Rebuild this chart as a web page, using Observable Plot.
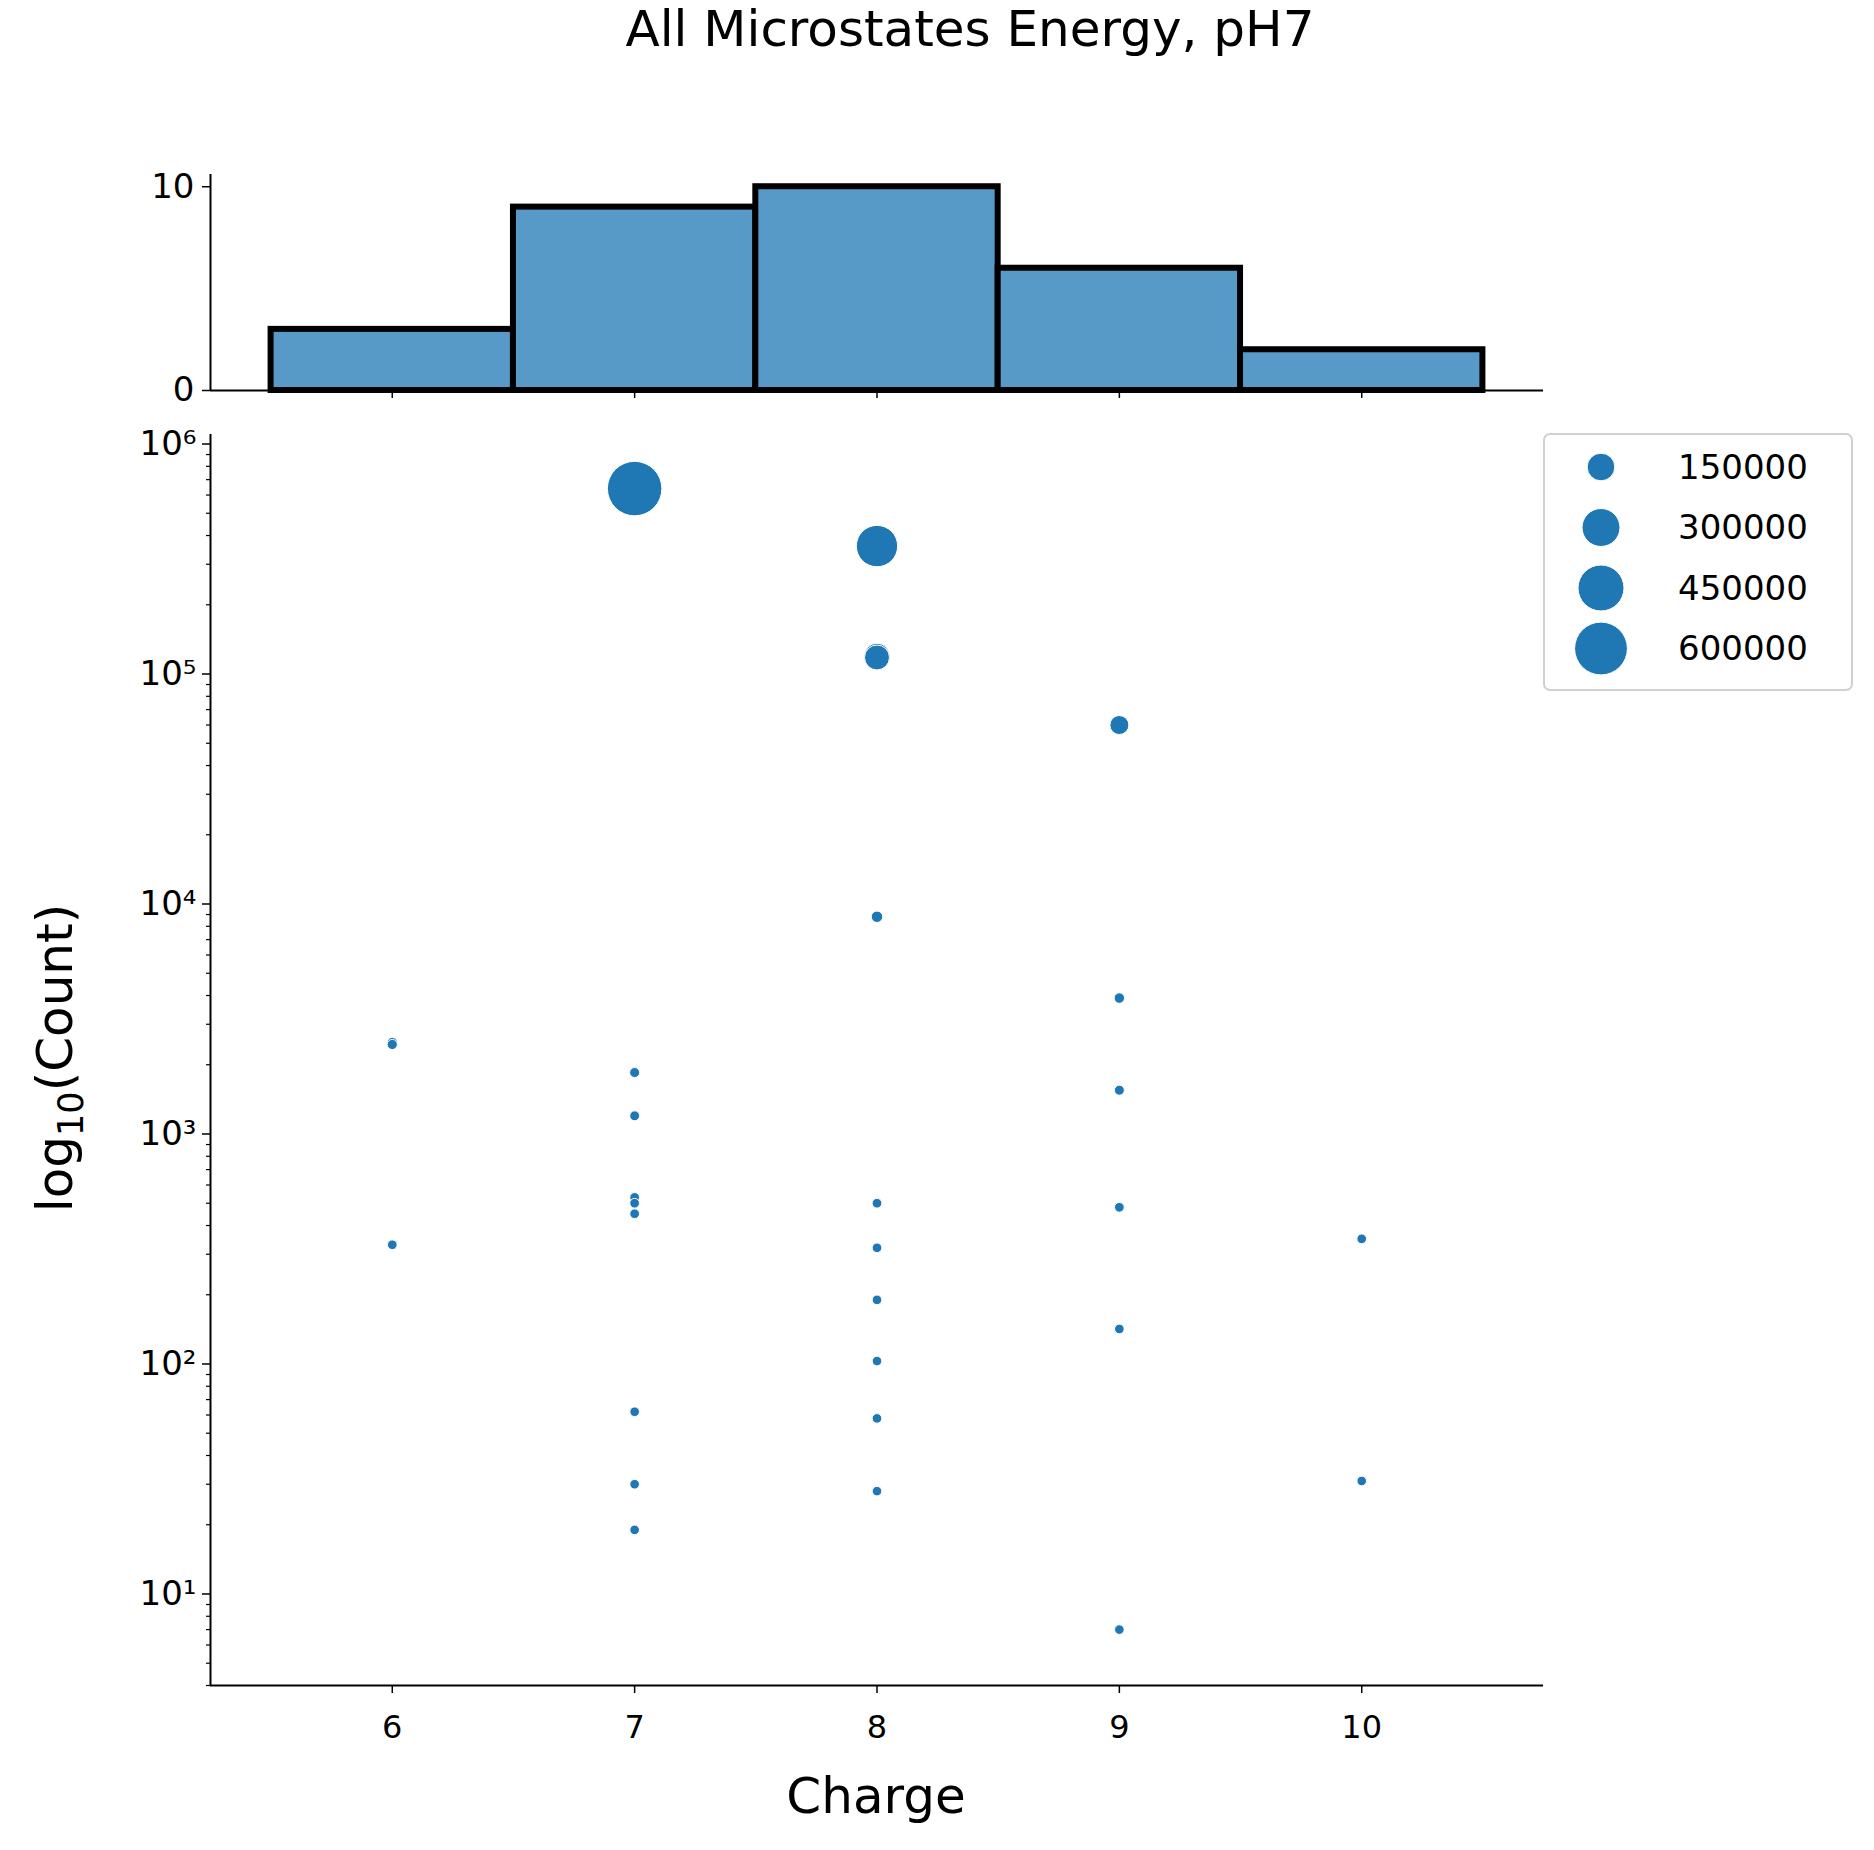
<!DOCTYPE html>
<html><head><meta charset="utf-8">
<script src="https://cdn.jsdelivr.net/npm/d3@7"></script>
<script src="https://cdn.jsdelivr.net/npm/@observablehq/plot@0.6"></script>
<style>
body{margin:0;background:#fff;font-family:"DejaVu Sans",sans-serif;}
#wrap{position:relative;width:1874px;height:1850px;}
#wrap > div, #wrap > svg{position:absolute;left:0;top:0;}
#title{position:absolute;top:26px;left:0;width:1940px;text-align:center;font-size:50px;}
.lab{position:absolute;font-size:50px;white-space:nowrap;transform:translate(-50%,-50%);}
</style></head><body>
<div id="wrap"><div id="title">All Microstates Energy, pH7</div></div>
<script>
const charge6 = [2500, 2450, 330];
const charge7 = [640000, 1850, 1200, 530, 500, 450, 62, 30, 19];
const charge8 = [360000, 120000, 118000, 8800, 500, 320, 190, 103, 58, 28];
const charge9 = [60000, 3900, 1550, 480, 142, 7];
const charge10 = [350, 31];
const charges = [6, 7, 8, 9, 10];
const legendValues = [150000, 300000, 450000, 600000];
const yTicks = [10, 100, 1000, 10000, 100000, 1000000];
const sup = {1:"¹",2:"²",3:"³",4:"⁴",5:"⁵",6:"⁶"};

const series = [charge6, charge7, charge8, charge9, charge10];
const pts = series.flatMap((arr, i) => arr.map(v => ({charge: charges[i], count: v})));
const hist = series.map((arr, i) => ({charge: charges[i], n: arr.length}));
const S = 1.2;
const rad = c => S * Math.sqrt(16 + 0.00078 * c);
const minor = [];
for (let e = 0; e <= 6; e++) for (let m = 2; m <= 9; m++) { const v = m * 10 ** e; if (v >= 4 && v <= 1.1e6) minor.push(v); }

const W = 1874, H = 1850, ML = 210, MR = W - 1543;
const col = "#1f77b4";
const fs = "40px";

const scatter = Plot.plot({
  width: W, height: H, marginLeft: ML, marginRight: MR, marginTop: 434, marginBottom: H - 1685,
  style: {fontSize: fs, fontFamily: "DejaVu Sans", background: "transparent", overflow: "visible"},
  x: {domain: [5.25, 10.75]},
  y: {type: "log", domain: [4.0, 1.1e6]},
  r: {type: "identity"},
  marks: [
    Plot.axisX(charges, {tickSize: 8, tickPadding: 22, strokeWidth: 1.5, label: null, fontSize: 32, tickFormat: d3.format("d")}),
    Plot.axisY(yTicks, {tickSize: 8, tickPadding: 6, strokeWidth: 1.5, label: null, fontSize: 34, tickFormat: v => "10" + sup[Math.round(Math.log10(v))]}),
    Plot.axisY(minor, {tickSize: 4, strokeWidth: 1.2, label: null, tickFormat: () => ""}),
    Plot.ruleX([5.25], {strokeWidth: 2}),
    Plot.ruleY([4.0], {strokeWidth: 2}),
    Plot.dot(pts, {x: "charge", y: "count", r: d => rad(d.count), fill: col, stroke: "white", strokeWidth: 1})
  ]
});

const histo = Plot.plot({
  width: W, height: 390 + 1, marginLeft: ML, marginRight: MR, marginTop: 174, marginBottom: 1,
  style: {fontSize: fs, fontFamily: "DejaVu Sans", background: "transparent", overflow: "visible"},
  x: {domain: [5.25, 10.75]},
  y: {domain: [0, 10.6]},
  marks: [
    Plot.rectY(hist, {x1: d => d.charge - 0.5, x2: d => d.charge + 0.5, y: "n", fill: "#5799c7", stroke: "black", strokeWidth: 6}),
    Plot.axisY([0, 10], {tickSize: 8, tickPadding: 8, strokeWidth: 1.5, label: null, fontSize: 34}),
    Plot.ruleX([5.25], {strokeWidth: 2}),
    Plot.ruleY([0], {strokeWidth: 2}),
    Plot.axisX(charges, {tickSize: 8, strokeWidth: 1.5, tickFormat: () => "", label: null})
  ]
});

const wrap = document.getElementById("wrap");
wrap.appendChild(histo);
wrap.appendChild(scatter);

const xl = document.createElement("div");
xl.className = "lab"; xl.style.left = "876px"; xl.style.top = "1796px"; xl.textContent = "Charge";
wrap.appendChild(xl);
const yl = document.createElement("div");
yl.className = "lab"; yl.style.left = "58px"; yl.style.top = "1058px";
yl.style.transform = "translate(-50%,-50%) rotate(-90deg)";
yl.innerHTML = "log<sub style='font-size:0.7em'>10</sub>(Count)";
wrap.appendChild(yl);

// legend
const lg = d3.create("svg").attr("width", W).attr("height", H).style("position","absolute").style("left","0").style("top","0");
lg.append("rect").attr("x", 1544).attr("y", 434).attr("width", 308).attr("height", 256).attr("rx", 6)
  .attr("fill", "white").attr("stroke", "#d0d0d0").attr("stroke-width", 2);
legendValues.forEach((v, i) => {
  const y = 467 + i * 60.5;
  lg.append("circle").attr("cx", 1601).attr("cy", y).attr("r", rad(v)).attr("fill", col).attr("stroke","white").attr("stroke-width",1);
  lg.append("text").attr("x", 1678).attr("y", y).attr("dy", "0.35em").attr("font-size", 34).attr("font-family","DejaVu Sans").text(v);
});
wrap.appendChild(lg.node());
</script>
</body></html>
